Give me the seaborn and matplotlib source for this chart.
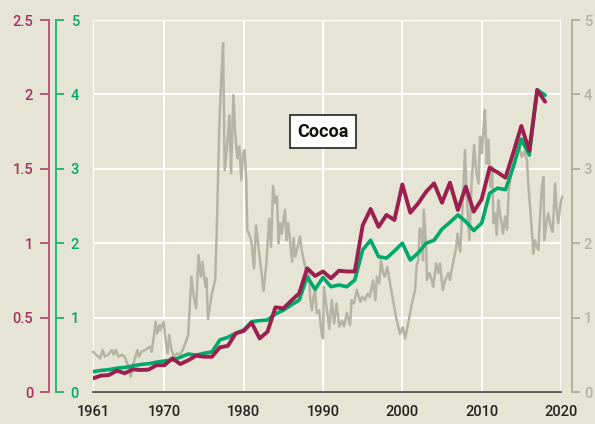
import matplotlib
matplotlib.use("Agg")
import matplotlib.pyplot as plt
import seaborn as sns

# ---- data -------------------------------------------------------------
years = list(range(1961, 2019))

# left outer axis (0 - 2.5)
crimson_vals = [0.092, 0.110, 0.114, 0.143, 0.126, 0.152, 0.148, 0.150, 0.180, 0.180,
                0.226, 0.188, 0.213, 0.244, 0.237, 0.237, 0.300, 0.310, 0.394, 0.410,
                0.466, 0.360, 0.405, 0.569, 0.562, 0.614, 0.663, 0.831, 0.780, 0.810,
                0.764, 0.815, 0.810, 0.810, 1.120, 1.230, 1.110, 1.190, 1.156, 1.395,
                1.205, 1.268, 1.346, 1.402, 1.272, 1.407, 1.223, 1.380, 1.212, 1.295,
                1.507, 1.476, 1.440, 1.610, 1.788, 1.622, 2.030, 1.951]

# left inner axis (0 - 5)
green_vals = [0.273, 0.290, 0.300, 0.320, 0.330, 0.350, 0.370, 0.380, 0.400, 0.417,
              0.430, 0.466, 0.510, 0.497, 0.520, 0.540, 0.700, 0.735, 0.790, 0.833,
              0.945, 0.960, 0.968, 1.048, 1.100, 1.170, 1.237, 1.550, 1.380, 1.540,
              1.415, 1.438, 1.415, 1.505, 1.910, 2.040, 1.820, 1.800, 1.895, 2.000,
              1.774, 1.870, 2.000, 2.040, 2.190, 2.280, 2.380, 2.290, 2.170, 2.270,
              2.670, 2.740, 2.720, 3.030, 3.400, 3.185, 4.060, 3.990]

# right axis (0 - 5): price series
price_years = [1961.0, 1961.9, 1962.2, 1962.5, 1962.9, 1963.4, 1963.6, 1963.9, 1964.2, 1964.6,
               1965.0, 1965.6, 1965.75, 1966.1, 1966.6, 1966.8, 1967.1, 1967.6, 1968.2, 1968.4,
               1968.7, 1968.9, 1969.1, 1969.4, 1969.5, 1969.9, 1970.2, 1970.4, 1970.6, 1970.9,
               1971.2, 1971.6, 1972.0, 1972.4, 1973.0, 1973.4, 1973.7, 1974.0, 1974.3, 1974.6,
               1974.8, 1975.0, 1975.2, 1975.3, 1975.5, 1976.0, 1976.4, 1976.6, 1976.93, 1977.2,
               1977.4, 1977.6, 1977.9, 1978.2, 1978.4, 1978.7, 1978.9, 1979.2, 1979.45, 1979.7,
               1979.9, 1980.1, 1980.3, 1980.45, 1980.8, 1981.0, 1981.3, 1981.55, 1981.9, 1982.2,
               1982.5, 1982.85, 1983.2, 1983.45, 1983.7, 1983.95, 1984.2, 1984.4, 1984.6, 1984.8,
               1985.2, 1985.4, 1985.6, 1985.85, 1986.1, 1986.3, 1986.5, 1986.9, 1987.1, 1987.3,
               1987.7, 1987.95, 1988.2, 1988.4, 1988.6, 1988.8, 1989.0, 1989.2, 1989.5, 1989.8,
               1990.0, 1990.1, 1990.5, 1990.8, 1991.1, 1991.4, 1991.7, 1992.05, 1992.4, 1992.65,
               1993.0, 1993.4, 1993.6, 1993.9, 1994.25, 1994.7, 1994.95, 1995.3, 1995.6, 1995.9,
               1996.3, 1996.6, 1996.8, 1997.1, 1997.3, 1997.6, 1997.8, 1998.1, 1998.45, 1998.9,
               1999.2, 1999.7, 2000.05, 2000.35, 2000.8, 2001.2, 2001.4, 2001.6, 2001.8, 2002.0,
               2002.2, 2002.45, 2002.6, 2002.7, 2003.0, 2003.1, 2003.4, 2003.7, 2003.9, 2004.25,
               2004.55, 2004.75, 2005.1, 2005.4, 2005.8, 2006.0, 2006.45, 2006.8, 2006.95, 2007.3,
               2007.5, 2007.9, 2008.1, 2008.45, 2008.75, 2009.05, 2009.3, 2009.6, 2009.8, 2010.0,
               2010.2, 2010.4, 2010.65, 2010.85, 2011.1, 2011.3, 2011.5, 2011.7, 2011.9, 2012.1,
               2012.3, 2012.7, 2012.95, 2013.2, 2013.4, 2013.8, 2014.2, 2014.6, 2015.05, 2015.35,
               2015.7, 2015.9, 2016.3, 2016.5, 2016.7, 2016.95, 2017.15, 2017.4, 2017.6, 2017.8,
               2017.9, 2018.2, 2018.4, 2018.7, 2018.95, 2019.25, 2019.45, 2019.65, 2019.95, 2020.15]
price_vals = [0.54, 0.45, 0.565, 0.475, 0.50, 0.565, 0.50, 0.565, 0.475, 0.50,
              0.475, 0.296, 0.206, 0.385, 0.565, 0.475, 0.54, 0.565, 0.61, 0.54,
              0.766, 0.945, 0.79, 0.90, 0.833, 0.945, 0.655, 0.52, 0.766, 0.565,
              0.475, 0.52, 0.50, 0.587, 0.766, 1.55, 1.28, 1.125, 1.84, 1.55,
              1.75, 1.55, 1.415, 1.53, 0.98, 1.33, 1.505, 2.15, 3.61, 4.28,
              4.69, 2.98, 3.30, 3.72, 2.94, 3.99, 3.52, 3.14, 3.30, 2.85,
              3.19, 3.25, 2.89, 2.18, 2.09, 2.00, 1.66, 2.24, 1.92, 1.64,
              1.36, 1.72, 2.33, 1.95, 2.77, 2.54, 2.63, 2.00, 2.27, 2.13,
              2.45, 2.04, 2.27, 2.02, 1.75, 2.07, 1.82, 2.00, 2.09, 1.91,
              1.70, 1.60, 1.64, 1.24, 1.10, 1.28, 1.37, 1.06, 1.10, 0.80,
              0.72, 1.415, 1.10, 0.85, 1.235, 0.92, 1.19, 0.88, 0.96, 0.88,
              1.06, 0.90, 1.235, 1.19, 1.37, 1.21, 1.28, 1.235, 1.32, 1.28,
              1.50, 1.235, 1.55, 1.46, 1.77, 1.59, 1.55, 1.68, 1.46, 1.19,
              1.01, 0.78, 0.87, 0.72, 0.96, 1.19, 1.28, 1.37, 1.70, 1.77,
              2.20, 2.13, 1.77, 2.45, 1.95, 1.505, 1.60, 1.505, 1.415, 1.73,
              1.60, 1.73, 1.37, 1.505, 1.60, 1.505, 1.77, 1.95, 2.13, 1.886,
              2.31, 3.25, 2.67, 2.04, 2.85, 3.32, 2.98, 2.80, 3.43, 3.21,
              3.48, 3.79, 3.07, 3.39, 2.76, 3.03, 2.27, 2.40, 2.11, 2.58,
              2.40, 2.13, 2.36, 2.18, 2.71, 2.98, 3.07, 3.34, 3.16, 3.23,
              3.12, 2.76, 2.22, 1.86, 2.04, 1.95, 1.91, 2.45, 2.76, 2.89,
              2.04, 2.31, 2.40, 2.22, 2.15, 2.80, 2.45, 2.27, 2.54, 2.63]

x_ticks = [1961, 1970, 1980, 1990, 2000, 2010, 2020]
crimson_ticks = [0, 0.5, 1, 1.5, 2, 2.5]
crimson_ticklabels = ["0", "0.5", "1", "1.5", "2", "2.5"]
green_ticks = [0, 1, 2, 3, 4, 5]
price_ticks = [0, 1, 2, 3, 4, 5]
title_text = "Cocoa"

# ---- style ------------------------------------------------------------
BG = "#e6e4d4"
CRIMSON = "#9b1f4f"
CRIMSON_AX = "#b25a7a"
CRIMSON_TXT = "#a3325e"
GREEN = "#00a86b"
GREEN_AX = "#2fb377"
GRAY = "#b5b3a3"
GRAY_AX = "#b3b1a1"
LABEL_SIZE = 10.5
LABEL_WEIGHT = "medium"

sns.set_style("white")
plt.rcParams["font.family"] = ["Roboto", "DejaVu Sans"]

W, H = 595, 424
fig = plt.figure(figsize=(W / 100, H / 100), dpi=100, facecolor=BG)
ax = fig.add_axes([93 / W, 32 / H, 468 / W, 372 / H])
ax.set_facecolor(BG)

# price line on the base axes (right scale)
sns.lineplot(x=price_years, y=price_vals, ax=ax, color=GRAY, lw=1.8,
             sort=True, estimator=None)
for ln in ax.lines:
    ln.set_clip_on(False)
ax.set_xlim(1961, 2020)
ax.set_ylim(0, 5)
ax.set_xticks(x_ticks)
ax.set_yticks(price_ticks)
ax.grid(True, color="white", lw=1.4)
ax.set_axisbelow(True)
ax.set_xlabel("")
ax.set_ylabel("")

# green series on its own axis (left, inner)
ax_g = ax.twinx()
sns.lineplot(x=years, y=green_vals, ax=ax_g, color=GREEN, lw=2.6, estimator=None)
ax_g.set_ylim(0, 5)
ax_g.set_yticks(green_ticks)
ax_g.set_ylabel("")

# crimson series on the outer left axis
ax_c = ax.twinx()
sns.lineplot(x=years, y=crimson_vals, ax=ax_c, color=CRIMSON, lw=2.8, estimator=None)
ax_c.set_ylim(0, 2.5)
ax_c.set_yticks(crimson_ticks)
ax_c.set_yticklabels(crimson_ticklabels)
ax_c.set_ylabel("")

# --- base axes: x axis and right-hand price scale
for s in ("top", "left"):
    ax.spines[s].set_visible(False)
ax.spines["bottom"].set_color("#444444")
ax.spines["bottom"].set_linewidth(1.2)
ax.spines["right"].set_visible(True)
ax.spines["right"].set_position(("axes", 1.0235))
ax.spines["right"].set_color(GRAY_AX)
ax.spines["right"].set_linewidth(1.4)
ax.yaxis.tick_right()
ax.tick_params(axis="x", direction="out", length=5.5, width=1.2, color="#444444",
               labelsize=LABEL_SIZE, labelcolor="#222222", pad=4)
ax.tick_params(axis="y", which="both", left=False, labelleft=False, right=True,
               labelright=True, direction="out", length=5.5, width=1.4,
               color=GRAY_AX, labelcolor=GRAY_AX, labelsize=LABEL_SIZE, pad=3)

# --- green scale
for s in ("top", "bottom", "left"):
    ax_g.spines[s].set_visible(False)
ax_g.spines["right"].set_position(("axes", -0.079))
ax_g.spines["right"].set_color(GREEN_AX)
ax_g.spines["right"].set_linewidth(1.4)
ax_g.yaxis.tick_right()
ax_g.tick_params(axis="y", direction="out", length=5.5, width=1.4, color=GREEN_AX,
                 labelcolor=GREEN, labelsize=LABEL_SIZE, pad=5)

# --- crimson scale
for s in ("top", "bottom", "right"):
    ax_c.spines[s].set_visible(False)
ax_c.spines["left"].set_visible(True)
ax_c.spines["left"].set_position(("axes", -0.094))
ax_c.spines["left"].set_color(CRIMSON_AX)
ax_c.spines["left"].set_linewidth(1.4)
ax_c.yaxis.tick_left()
ax_c.tick_params(axis="y", left=True, right=False, labelleft=True, labelright=False,
                 direction="out", length=6.5, width=1.4, color=CRIMSON_AX,
                 labelcolor=CRIMSON_TXT, labelsize=LABEL_SIZE, pad=5)

for a in (ax, ax_g, ax_c):
    for lab in a.get_xticklabels() + a.get_yticklabels():
        lab.set_fontweight(LABEL_WEIGHT)

# chart label box
ax_c.text(1989.97, 1.75, title_text, ha="center", va="center", fontsize=13,
          fontweight="bold", color="#111111", zorder=10,
          bbox=dict(boxstyle="square,pad=0.42", fc="#fdfdfb", ec="#222222", lw=1.2))

fig.savefig("out.png", dpi=100, facecolor=BG)
